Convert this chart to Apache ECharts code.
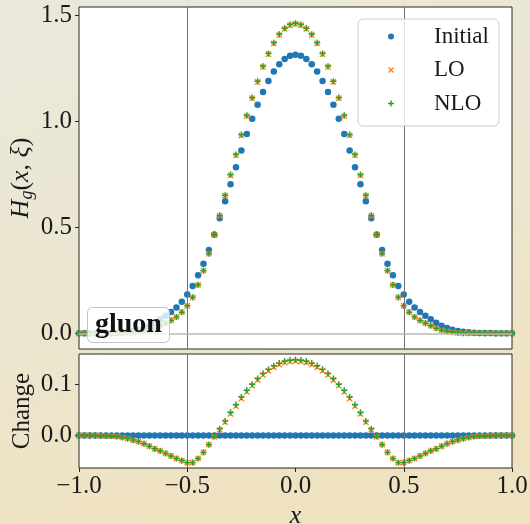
<!DOCTYPE html>
<html>
<head>
<meta charset="utf-8">
<script src="https://cdn.jsdelivr.net/npm/echarts@6/dist/echarts.min.js"></script>
<style>
html,body{margin:0;padding:0;background:#ebe6d2;}
#c{width:530px;height:524px;}
</style>
</head>
<body>
<div id="c"></div>
<script>
// ---- data ----
const xs = [-1.000,-0.975,-0.950,-0.925,-0.900,-0.875,-0.850,-0.825,-0.800,-0.775,-0.750,-0.725,-0.700,-0.675,-0.650,-0.625,-0.600,-0.575,-0.550,-0.525,-0.500,-0.475,-0.450,-0.425,-0.400,-0.375,-0.350,-0.325,-0.300,-0.275,-0.250,-0.225,-0.200,-0.175,-0.150,-0.125,-0.100,-0.075,-0.050,-0.025,0.000,0.025,0.050,0.075,0.100,0.125,0.150,0.175,0.200,0.225,0.250,0.275,0.300,0.325,0.350,0.375,0.400,0.425,0.450,0.475,0.500,0.525,0.550,0.575,0.600,0.625,0.650,0.675,0.700,0.725,0.750,0.775,0.800,0.825,0.850,0.875,0.900,0.925,0.950,0.975,1.000];

const initial = [0.000,0.000,0.000,0.000,0.001,0.001,0.002,0.003,0.005,0.007,0.011,0.017,0.025,0.036,0.050,0.066,0.083,0.101,0.122,0.149,0.183,0.223,0.274,0.329,0.394,0.467,0.544,0.624,0.704,0.784,0.863,0.941,1.013,1.079,1.140,1.192,1.236,1.271,1.296,1.311,1.316,
1.311,1.296,1.271,1.236,1.192,1.140,1.079,1.013,0.941,0.863,0.784,0.704,0.624,0.544,0.467,0.394,0.329,0.274,0.223,0.183,0.149,0.122,0.101,0.083,0.066,0.050,0.036,0.025,0.017,0.011,0.007,0.005,0.003,0.002,0.001,0.001,0.000,0.000,0.000,0.000];

const changeLO = [0,0,0,0,-0.0005,-0.001,-0.001,-0.002,-0.004,-0.006,-0.009,-0.012,-0.016,-0.021,-0.026,-0.030,-0.035,-0.040,-0.045,-0.049,-0.053,-0.053,-0.045,-0.033,-0.018,-0.003,0.011,0.026,0.042,0.057,0.072,0.085,0.097,0.108,0.118,0.126,0.133,0.138,0.142,0.144,0.145,
0.144,0.142,0.138,0.133,0.126,0.118,0.108,0.097,0.085,0.072,0.057,0.042,0.026,0.011,-0.003,-0.018,-0.033,-0.045,-0.053,-0.053,-0.049,-0.045,-0.040,-0.035,-0.030,-0.026,-0.021,-0.016,-0.012,-0.009,-0.006,-0.004,-0.002,-0.001,-0.001,-0.0005,0,0,0,0];

const changeNLO = [0,0,0,0,-0.0005,-0.001,-0.001,-0.002,-0.004,-0.006,-0.009,-0.012,-0.016,-0.021,-0.026,-0.030,-0.035,-0.040,-0.045,-0.049,-0.053,-0.053,-0.045,-0.033,-0.018,-0.002,0.013,0.028,0.045,0.060,0.075,0.088,0.100,0.111,0.121,0.129,0.136,0.141,0.145,0.147,0.148,
0.147,0.145,0.141,0.136,0.129,0.121,0.111,0.100,0.088,0.075,0.060,0.045,0.028,0.013,-0.002,-0.018,-0.033,-0.045,-0.053,-0.053,-0.049,-0.045,-0.040,-0.035,-0.030,-0.026,-0.021,-0.016,-0.012,-0.009,-0.006,-0.004,-0.002,-0.001,-0.001,-0.0005,0,0,0,0];

const yTicksTop = [0, 0.5, 1.0, 1.5];
const yTicksBottom = [0, 0.1];
const vLines = [-0.5, 0.5];
const seriesNames = ['Initial', 'LO', 'NLO'];

// ---- build ----
const topInitial = xs.map((x, i) => [x, initial[i]]);
const topLO = xs.map((x, i) => [x, initial[i] + changeLO[i]]);
const topNLO = xs.map((x, i) => [x, initial[i] + changeNLO[i]]);
const chInitial = xs.map((x, i) => [x, initial[i] - initial[i]]);
const chLO = xs.map((x, i) => [x, changeLO[i]]);
const chNLO = xs.map((x, i) => [x, changeNLO[i]]);

const FONT = 'Liberation Serif';
const PLUS = 'path://M3.8,0H6.2V3.8H10V6.2H6.2V10H3.8V6.2H0V3.8H3.8Z';
const CROSS = 'path://M0,1.5L1.5,0L5,3.5L8.5,0L10,1.5L6.5,5L10,8.5L8.5,10L5,6.5L1.5,10L0,8.5L3.5,5Z';
const BLUE = '#1f77b4', ORANGE = '#ff7f0e', GREEN = '#2ca02c';

const fmt = v => (v < 0 ? '\u2212' : '') + Math.abs(v).toFixed(1);

const vMark = {
  silent: true, symbol: 'none', animation: false,
  label: {show: false},
  lineStyle: {color: '#707070', width: 1, type: 'solid'},
  data: vLines.map(v => ({xAxis: v}))
};
const topMark = {
  silent: true, symbol: 'none', animation: false,
  label: {show: false},
  lineStyle: {color: '#707070', width: 1, type: 'solid'},
  data: vLines.map(v => ({xAxis: v})).concat([{yAxis: 0, lineStyle: {color: '#b8b8b8', width: 1.6}}])
};

const gridBase = {left: 79, width: 433, show: true, backgroundColor: '#ffffff', borderColor: '#262626', borderWidth: 1, containLabel: false, outerBoundsMode: 'none'};
const tickStyle = {show: true, length: 4, lineStyle: {color: '#262626', width: 1}};
const noLine = {show: false, onZero: false};

const chart = echarts.init(document.getElementById('c'));
chart.setOption({
  animation: false,
  backgroundColor: new echarts.graphic.LinearGradient(0, 0, 0.3, 1, [
    {offset: 0, color: '#e9e8da'},
    {offset: 0.6, color: '#ece6cf'},
    {offset: 1, color: '#efe2c1'}
  ]),
  grid: [
    Object.assign({top: 7, height: 342}, gridBase),
    Object.assign({top: 354, height: 114}, gridBase)
  ],
  xAxis: [
    {type: 'value', gridIndex: 0, min: -1, max: 1, interval: 0.5,
     axisLine: noLine, axisTick: {show: false}, axisLabel: {show: false}, splitLine: {show: false}},
    {type: 'value', gridIndex: 1, min: -1, max: 1, interval: 0.5,
     axisLine: noLine,
     axisTick: tickStyle,
     axisLabel: {show: true, margin: 6, formatter: fmt, fontFamily: FONT, fontSize: 25, color: '#1a1a1a', showMinLabel: true, showMaxLabel: true},
     splitLine: {show: false},
     name: 'x', nameLocation: 'middle', nameGap: 35, nameMoveOverlap: false,
     nameTextStyle: {fontFamily: FONT, fontStyle: 'italic', fontSize: 26, color: '#1a1a1a'}}
  ],
  yAxis: [
    {type: 'value', gridIndex: 0, min: -0.074, max: 1.541,
     axisLine: noLine,
     axisTick: Object.assign({customValues: yTicksTop}, tickStyle),
     axisLabel: {show: true, margin: 7, formatter: fmt, fontFamily: FONT, fontSize: 25, color: '#1a1a1a', customValues: yTicksTop},
     splitLine: {show: false},
     name: '{i|H}{s|g}{n|(}{i|x}{n|, }{i|\u03be}{n|)}', nameLocation: 'middle', nameGap: 43, nameRotate: 90, nameMoveOverlap: false,
     nameTextStyle: {
       fontFamily: FONT, fontSize: 25, color: '#1a1a1a',
       rich: {
         i: {fontFamily: FONT, fontStyle: 'italic', fontSize: 26, color: '#1a1a1a', lineHeight: 30},
         n: {fontFamily: FONT, fontSize: 26, color: '#1a1a1a', lineHeight: 30},
         s: {fontFamily: FONT, fontStyle: 'italic', fontSize: 18, color: '#1a1a1a', lineHeight: 30, verticalAlign: 'bottom'}
       }
     }},
    {type: 'value', gridIndex: 1, min: -0.0635, max: 0.159,
     axisLine: noLine,
     axisTick: Object.assign({customValues: yTicksBottom}, tickStyle),
     axisLabel: {show: true, margin: 7, formatter: fmt, fontFamily: FONT, fontSize: 25, color: '#1a1a1a', customValues: yTicksBottom},
     splitLine: {show: false},
     name: 'Change', nameLocation: 'middle', nameGap: 44, nameRotate: 90, nameMoveOverlap: false,
     nameTextStyle: {fontFamily: FONT, fontSize: 25, color: '#1a1a1a'}}
  ],
  legend: {
    orient: 'vertical', left: 358, top: 19,
    itemWidth: 6, itemHeight: 6, itemGap: 10.5,
    padding: [6, 10, 11, 30],
    backgroundColor: 'rgba(255,255,255,0.8)', borderColor: '#cccccc', borderWidth: 1, borderRadius: 5,
    textStyle: {fontFamily: FONT, fontSize: 23, color: '#1a1a1a', lineHeight: 23, padding: [0, 0, 0, 35]},
    data: seriesNames, selectedMode: false, z: 10
  },
  title: {
    text: 'gluon', left: 87, top: 308,
    padding: [3, 8, 4, 8],
    backgroundColor: 'rgba(255,255,255,0.8)', borderColor: '#c4c4c4', borderWidth: 1, borderRadius: 5,
    textStyle: {fontFamily: FONT, fontWeight: 'bold', fontSize: 28, color: '#111111', lineHeight: 27},
    z: 10
  },
  series: [
    {name: seriesNames[0], type: 'scatter', xAxisIndex: 0, yAxisIndex: 0, data: topInitial,
     symbol: 'circle', symbolSize: 6.5, itemStyle: {color: BLUE, opacity: 1}, markLine: topMark, z: 2},
    {name: seriesNames[1], type: 'scatter', xAxisIndex: 0, yAxisIndex: 0, data: topLO,
     symbol: CROSS, symbolSize: 6.2, itemStyle: {color: ORANGE, opacity: 1}, z: 3},
    {name: seriesNames[2], type: 'scatter', xAxisIndex: 0, yAxisIndex: 0, data: topNLO,
     symbol: PLUS, symbolSize: 6.2, itemStyle: {color: GREEN, opacity: 1}, z: 4},
    {name: seriesNames[0], type: 'scatter', xAxisIndex: 1, yAxisIndex: 1, data: chInitial,
     symbol: 'circle', symbolSize: 6.5, itemStyle: {color: BLUE, opacity: 1}, markLine: vMark, z: 2},
    {name: seriesNames[1], type: 'scatter', xAxisIndex: 1, yAxisIndex: 1, data: chLO,
     symbol: CROSS, symbolSize: 6.2, itemStyle: {color: ORANGE, opacity: 1}, z: 3},
    {name: seriesNames[2], type: 'scatter', xAxisIndex: 1, yAxisIndex: 1, data: chNLO,
     symbol: PLUS, symbolSize: 6.2, itemStyle: {color: GREEN, opacity: 1}, z: 4}
  ]
});
</script>
</body>
</html>
